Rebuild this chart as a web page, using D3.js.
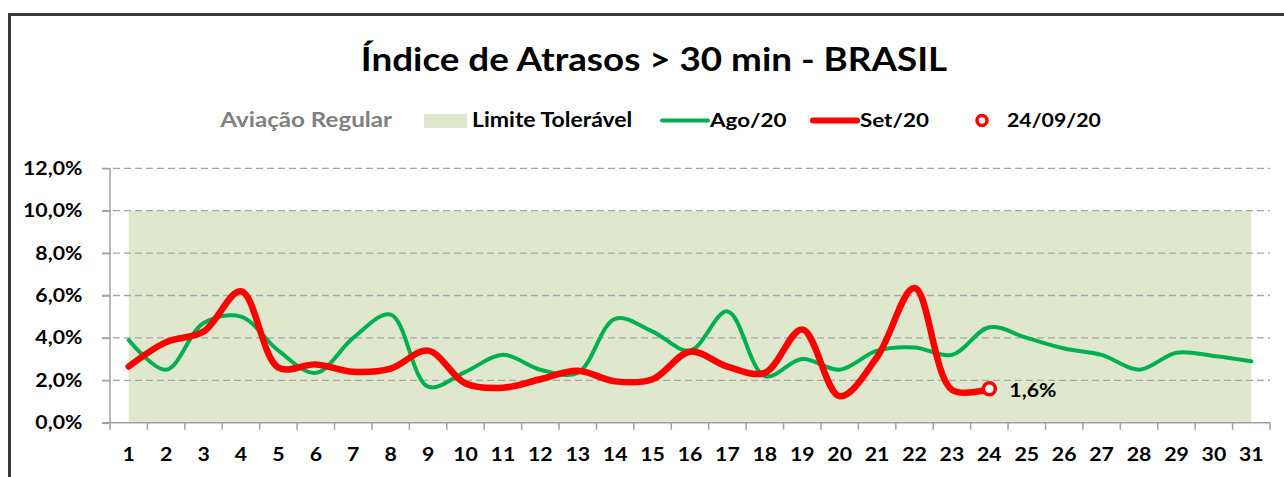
<!DOCTYPE html>
<html>
<head>
<meta charset="utf-8">
<script src="https://cdn.jsdelivr.net/npm/d3@7"></script>
<style>
  body { margin: 0; background: #fff; }
  text { font-family: Lato, "Open Sans", sans-serif; font-weight: bold; }
</style>
</head>
<body>
<div id="chart"></div>
<script>
// data
var days = d3.range(1, 32);
var limite = days.map(function(){ return 10; });
var ago20 = [3.9, 2.5, 4.7, 5.0, 3.4, 2.35, 4.0, 5.1, 1.7, 2.4, 3.2, 2.5, 2.35, 4.9, 4.3, 3.4,
             5.25, 2.2, 3.0, 2.5, 3.4, 3.55, 3.2, 4.5, 4.0, 3.5, 3.2, 2.5, 3.3, 3.15, 2.9];
var set20 = [2.65, 3.8, 4.3, 6.2, 2.6, 2.75, 2.4, 2.55, 3.4, 1.85, 1.65, 2.05, 2.45, 1.95, 2.05,
             3.35, 2.65, 2.35, 4.4, 1.25, 3.1, 6.35, 1.55, 1.6];
var yTicks = [0, 2, 4, 6, 8, 10, 12];
var lastDay = 24;

var title = "Índice de Atrasos > 30 min - BRASIL";
var legendNames = ["Limite Tolerável", "Ago/20", "Set/20", "24/09/20"];

var width = 1284, height = 477;
var sx = 1.15; // picture is a little wider than the fonts

var svg = d3.select("#chart").append("svg")
  .attr("width", width)
  .attr("height", height);

// frame
svg.append("path")
  .attr("d", "M9.5," + height + "V14.5H" + width)
  .attr("fill", "none")
  .attr("stroke", "#3a3a3a")
  .attr("stroke-width", 3);

function label(x, y, txt, anchor, size, color){
  return svg.append("text")
    .attr("transform", "translate(" + x + "," + y + ") scale(" + sx + ",1)")
    .attr("text-anchor", anchor)
    .attr("font-size", size)
    .attr("fill", color || "#000")
    .text(txt);
}

label(654, 71, title, "middle", 32);

var xScale = d3.scaleBand().domain(days).range([110, 1270]);
var yScale = d3.scaleLinear().domain([0, 12]).range([422.7, 168.3]);
var cx = function(d){ return xScale(d) + xScale.bandwidth() / 2; };

// tolerance area
var area = d3.area()
  .x(function(d, i){ return cx(days[i]); })
  .y0(yScale(0))
  .y1(function(d){ return yScale(d); });

svg.append("path")
  .datum(limite)
  .attr("d", area)
  .attr("fill", "#dfe8cc");

// grid
svg.selectAll(".grid")
  .data(yTicks.slice(1))
  .enter().append("line")
  .attr("class", "grid")
  .attr("x1", 102)
  .attr("x2", 1270)
  .attr("y1", function(d){ return yScale(d); })
  .attr("y2", function(d){ return yScale(d); })
  .attr("stroke", "#a6a6a6")
  .attr("stroke-width", 1.3)
  .attr("stroke-dasharray", "7,4");

// axes
var yAxis = d3.axisLeft(yScale)
  .tickValues(yTicks)
  .tickSize(8)
  .tickPadding(16)
  .tickFormat(function(d){ return d.toFixed(1).replace(".", ",") + "%"; });

var gy = svg.append("g")
  .attr("transform", "translate(110,0)")
  .call(yAxis);

var xAxis = d3.axisBottom(xScale).tickSize(0).tickPadding(25);
var gx = svg.append("g")
  .attr("transform", "translate(0," + yScale(0) + ")")
  .call(xAxis);

gx.selectAll(".band-tick")
  .data(days.concat([32]))
  .enter().append("line")
  .attr("class", "band-tick")
  .attr("x1", function(d){ return d > 31 ? 1270 : xScale(d); })
  .attr("x2", function(d){ return d > 31 ? 1270 : xScale(d); })
  .attr("y1", 0)
  .attr("y2", 7);

[gx, gy].forEach(function(g){
  g.selectAll("path, line").attr("stroke", "#a0a0a0").attr("stroke-width", 1.5);
  g.selectAll("text")
    .attr("font-family", "Lato, sans-serif")
    .attr("font-size", 18.5)
    .attr("fill", "#000")
    .attr("transform", "scale(" + sx + ",1)");
});
gx.select(".domain").attr("d", "M102,0H1270");
gy.select(".domain").attr("d", "M0,168.3V422.7");

// lines
var line = d3.line()
  .x(function(d, i){ return cx(days[i]); })
  .y(function(d){ return yScale(d); })
  .curve(d3.curveCatmullRom.alpha(0.5));

svg.append("path")
  .datum(ago20)
  .attr("d", line)
  .attr("fill", "none")
  .attr("stroke", "#00b050")
  .attr("stroke-width", 4)
  .attr("stroke-linecap", "round");

svg.append("path")
  .datum(set20)
  .attr("d", line)
  .attr("fill", "none")
  .attr("stroke", "#ff0000")
  .attr("stroke-width", 6.5)
  .attr("stroke-linecap", "round");

var lastVal = set20[lastDay - 1];
svg.append("circle")
  .attr("cx", cx(lastDay))
  .attr("cy", yScale(lastVal))
  .attr("r", 6)
  .attr("fill", "#fff")
  .attr("stroke", "#ff0000")
  .attr("stroke-width", 3.5);

label(cx(lastDay) + 20, yScale(lastVal) + 8, lastVal.toFixed(1).replace(".", ",") + "%", "start", 18.5);

// legend
label(392, 127, "Aviação Regular", "end", 21, "#808080");

svg.append("rect")
  .attr("x", 424).attr("y", 114)
  .attr("width", 43).attr("height", 14)
  .attr("fill", "#dfe8cc");
label(472, 127, legendNames[0], "start", 20);

svg.append("line")
  .attr("x1", 662).attr("x2", 708).attr("y1", 120.5).attr("y2", 120.5)
  .attr("stroke", "#00b050").attr("stroke-width", 4).attr("stroke-linecap", "round");
label(710, 127, legendNames[1], "start", 19.5);

svg.append("line")
  .attr("x1", 813).attr("x2", 857).attr("y1", 120.5).attr("y2", 120.5)
  .attr("stroke", "#ff0000").attr("stroke-width", 6).attr("stroke-linecap", "round");
label(860, 127, legendNames[2], "start", 19.5);

svg.append("circle")
  .attr("cx", 982).attr("cy", 120.5).attr("r", 5)
  .attr("fill", "#fff").attr("stroke", "#ff0000").attr("stroke-width", 3.5);
label(1007, 127, legendNames[3], "start", 18.5);
</script>
</body>
</html>
